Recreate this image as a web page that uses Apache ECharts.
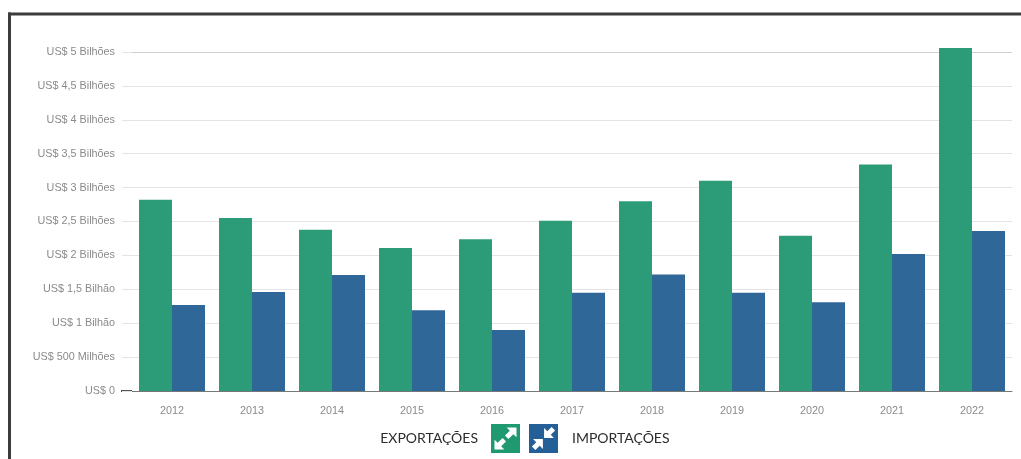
<!DOCTYPE html>
<html><head><meta charset="utf-8">
<style>html,body{margin:0;padding:0;background:#fff}#c{width:1021px;height:459px}</style>
<script src="https://cdn.jsdelivr.net/npm/echarts@6/dist/echarts.min.js"></script>
</head><body><div id="c"></div>
<script>
const categories = ['2012','2013','2014','2015','2016','2017','2018','2019','2020','2021','2022'];
const exportacoes = [2.82,2.55,2.38,2.11,2.24,2.51,2.80,3.10,2.29,3.34,5.06];
const importacoes = [1.27,1.46,1.71,1.19,0.90,1.45,1.72,1.45,1.31,2.02,2.36];
const yTickLabels = ['US$ 0','US$ 500 Milhões','US$ 1 Bilhão','US$ 1,5 Bilhão','US$ 2 Bilhões','US$ 2,5 Bilhões','US$ 3 Bilhões','US$ 3,5 Bilhões','US$ 4 Bilhões','US$ 4,5 Bilhões','US$ 5 Bilhões'];
const iconOut = 'path://M0 0H100V100H0Z M88 12L54 12L65 23L48 40L60 52L77 35L88 46Z M12 88L46 88L35 77L52 60L40 48L23 65L12 54Z';
const iconIn = 'path://M0 0H100V100H0Z M52 48L86 48L75 37L90 22L78 10L63 25L52 14Z M48 52L14 52L25 63L10 78L22 90L37 75L48 86Z';
const chart = echarts.init(document.getElementById('c'), null, {renderer:'canvas'});
const legendText = {fontFamily:'Lato',fontSize:14,color:'#2b2b2b'};
const gridColors = ['#e4e4e4','#e4e4e4','#e4e4e4','#e4e4e4','#e4e4e4','#e4e4e4','#e4e4e4','#e4e4e4','#e4e4e4','#e4e4e4','#cfcfcf'];
chart.setOption({
  animation:false,
  backgroundColor:'#fff',
  textStyle:{fontFamily:'Liberation Sans'},
  grid:{left:132,right:9,top:52,bottom:68,containLabel:false},
  legend:[
    {data:[{name:'EXPORTAÇÕES',icon:iconOut,itemStyle:{color:'#1f9a70'}}],selectedMode:false,padding:0,right:501,top:424,align:'right',itemWidth:33,itemHeight:29,
     textStyle:Object.assign({padding:[8,6,0,0]},legendText)},
    {data:[{name:'IMPORTAÇÕES',icon:iconIn,itemStyle:{color:'#245f97'}}],selectedMode:false,padding:0,left:529,top:424,align:'left',itemWidth:33,itemHeight:29,
     textStyle:Object.assign({padding:[8,0,0,7]},legendText)}
  ],
  xAxis:{type:'category',data:categories,
    axisLine:{lineStyle:{color:'#777',width:1}},
    axisTick:{alignWithLabel:true,length:10,lineStyle:{color:'#ccc'}},
    axisLabel:{color:'#8a8a8a',fontSize:10.8,margin:15}},
  yAxis:{type:'value',min:0,max:5,interval:0.5,
    axisLine:{show:false},
    axisTick:{show:true,length:10,lineStyle:{color:'#e4e4e4'}},
    splitLine:{lineStyle:{color:gridColors}},
    axisLabel:{color:'#8a8a8a',fontSize:10.8,margin:17,formatter:v=>yTickLabels[Math.round(v/0.5)]}},
  series:[
    {name:'EXPORTAÇÕES',type:'bar',data:exportacoes,barWidth:33,barGap:0,clip:false,itemStyle:{color:'#2c9c78'}},
    {name:'IMPORTAÇÕES',type:'bar',data:importacoes,barWidth:33,barGap:0,clip:false,itemStyle:{color:'#2f6798'}}
  ],
  graphic:[
    {type:'rect',shape:{x:8,y:12.5,width:1013,height:3},style:{fill:'#3c3c3c'},silent:true},
    {type:'rect',shape:{x:8,y:12.5,width:3,height:447},style:{fill:'#3c3c3c'},silent:true},
    {type:'rect',shape:{x:121,y:390,width:11,height:2},style:{fill:'#555'},silent:true}
  ]
});
</script></body></html>
